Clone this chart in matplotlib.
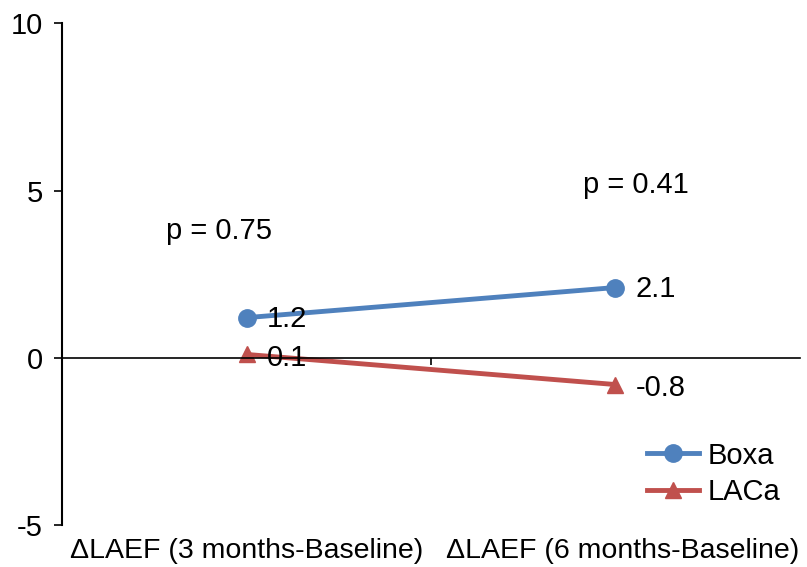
import matplotlib as mpl
import matplotlib.pyplot as plt
import matplotlib.transforms as mtransforms

mpl.rc('font', family='Liberation Sans')
mpl.rcParams['axes.unicode_minus'] = False

categories = ["\u0394LAEF (3 months-Baseline)", "\u0394LAEF (6 months-Baseline)"]
boxa = [1.2, 2.1]
laca = [0.1, -0.8]
p_labels = ["p = 0.75", "p = 0.41"]
p_heights = [3.8, 5.15]

xpos = [0.5, 1.5]
p_shift = [-0.075, 0.055]
cat_shift = [0.0, 0.02]

fig = plt.figure(figsize=(8.07, 5.67), dpi=100)
ax = fig.add_axes([0.077, 0.074, 0.914, 0.885])

ax.plot(xpos, boxa, color="#4F81BD", lw=3.5, marker="o", ms=12.5, label="Boxa")
ax.plot(xpos, laca, color="#C0504D", lw=3.5, marker="^", ms=11.5, label="LACa")

for x, v in zip(xpos, boxa):
    ax.text(x + 0.055, v - 0.05, f"{v}", fontsize=21, va="center", ha="left")
for x, v in zip(xpos, laca):
    ax.text(x + 0.055, v - 0.1, f"{v}", fontsize=21, va="center", ha="left")
for x, s, t, h in zip(xpos, p_shift, p_labels, p_heights):
    ax.text(x + s, h, t, fontsize=21, va="center", ha="center")

ax.set_xlim(0, 2)
ax.set_ylim(-5, 10)
ax.set_yticks([-5, 0, 5, 10])
ax.tick_params(axis="y", labelsize=21, length=6, width=1.2, direction="out", pad=8)
ax.spines["top"].set_visible(False)
ax.spines["right"].set_visible(False)
ax.spines["bottom"].set_position(("data", 0))
ax.spines["left"].set_linewidth(1.5)
ax.spines["bottom"].set_linewidth(1.2)
ax.set_xticks([1])
ax.set_xticklabels([""])
ax.tick_params(axis="x", length=5, width=1.2, direction="out")

trans = mtransforms.blended_transform_factory(ax.transData, ax.transAxes)
for x, s, c in zip(xpos, cat_shift, categories):
    ax.text(x + s, -0.052, c, fontsize=20.5, ha="center", va="center", transform=trans)

ax.legend(loc="lower right", bbox_to_anchor=(1.01, -0.015), frameon=False, fontsize=21,
          handlelength=1.8, labelspacing=0.3, handletextpad=0.3)

plt.savefig("out.png", dpi=100)
